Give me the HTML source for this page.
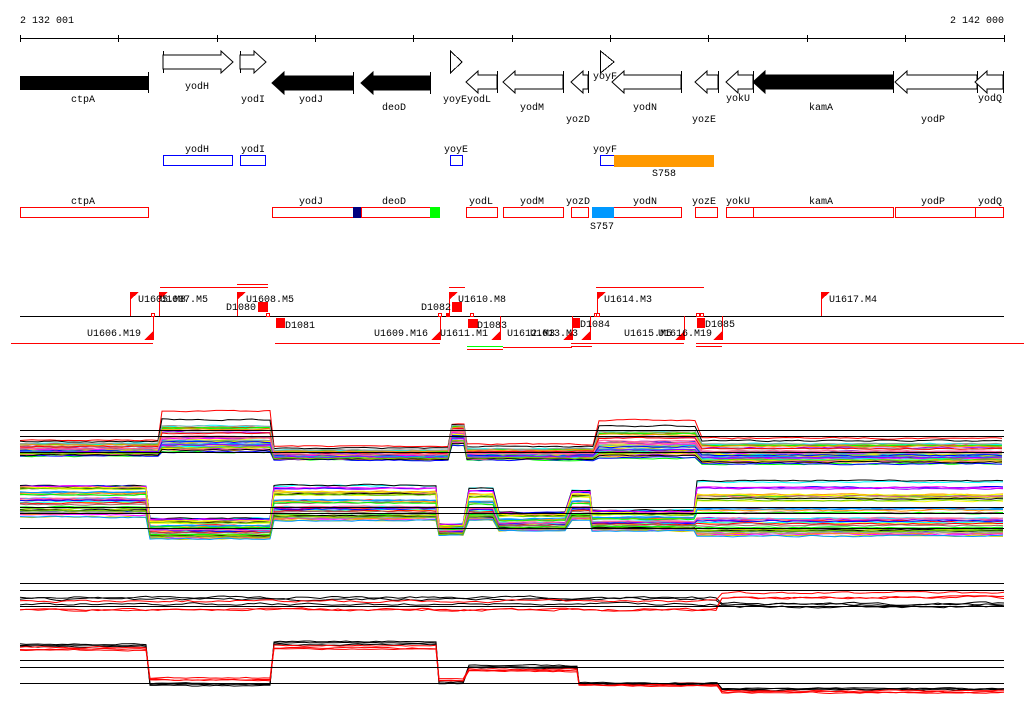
<!DOCTYPE html>
<html><head><meta charset="utf-8">
<style>
html,body{margin:0;padding:0;background:#fff;}
svg{display:block;}
text{font-family:"Liberation Mono","DejaVu Sans Mono",monospace;font-size:10px;fill:#000;}
</style></head>
<body>
<svg id="s" xmlns="http://www.w3.org/2000/svg" width="1024" height="714" viewBox="0 0 1024 714" shape-rendering="crispEdges">
<text x="20" y="23">2 132 001</text>
<text x="1004" y="23" text-anchor="end">2 142 000</text>
<line x1="20" y1="38.5" x2="1004" y2="38.5" stroke="#000"/>
<g id="ticks" stroke="#000"></g>
<g id="genes"></g>
<text x="83" y="102" text-anchor="middle">ctpA</text>
<text x="197" y="89" text-anchor="middle">yodH</text>
<text x="253" y="102" text-anchor="middle">yodI</text>
<text x="311" y="102" text-anchor="middle">yodJ</text>
<text x="394" y="110" text-anchor="middle">deoD</text>
<text x="443" y="102">yoyEyodL</text>
<text x="532" y="110" text-anchor="middle">yodM</text>
<text x="578" y="122" text-anchor="middle">yozD</text>
<text x="593" y="79">yoyF</text>
<text x="645" y="110" text-anchor="middle">yodN</text>
<text x="704" y="122" text-anchor="middle">yozE</text>
<text x="738" y="101" text-anchor="middle">yokU</text>
<text x="821" y="110" text-anchor="middle">kamA</text>
<text x="933" y="122" text-anchor="middle">yodP</text>
<text x="990" y="101" text-anchor="middle">yodQ</text>
<g fill="none" stroke="#0000ff">
<rect x="163.5" y="155.5" width="69" height="10"/>
<rect x="240.5" y="155.5" width="25" height="10"/>
<rect x="450.5" y="155.5" width="12" height="10"/>
<rect x="600.5" y="155.5" width="14" height="10"/>
</g>
<rect x="614" y="155" width="100" height="12" fill="#ff9900"/>
<text x="197" y="152" text-anchor="middle">yodH</text>
<text x="253" y="152" text-anchor="middle">yodI</text>
<text x="456" y="152" text-anchor="middle">yoyE</text>
<text x="593" y="152">yoyF</text>
<text x="664" y="176" text-anchor="middle">S758</text>
<g fill="none" stroke="#ff0000">
<rect x="20.5" y="207.5" width="128" height="10"/>
<rect x="272.5" y="207.5" width="81" height="10"/>
<rect x="361.5" y="207.5" width="69" height="10"/>
<rect x="466.5" y="207.5" width="31" height="10"/>
<rect x="503.5" y="207.5" width="60" height="10"/>
<rect x="571.5" y="207.5" width="17" height="10"/>
<rect x="613.5" y="207.5" width="68" height="10"/>
<rect x="695.5" y="207.5" width="22" height="10"/>
<rect x="726.5" y="207.5" width="27" height="10"/>
<rect x="753.5" y="207.5" width="140" height="10"/>
<rect x="895.5" y="207.5" width="80" height="10"/>
<rect x="975.5" y="207.5" width="28" height="10"/>
</g>
<rect x="353" y="207" width="8" height="11" fill="#000080"/>
<rect x="430" y="207" width="10" height="11" fill="#00ff00"/>
<rect x="592" y="207" width="22" height="11" fill="#0099ff"/>
<text x="83" y="204" text-anchor="middle">ctpA</text>
<text x="311" y="204" text-anchor="middle">yodJ</text>
<text x="394" y="204" text-anchor="middle">deoD</text>
<text x="481" y="204" text-anchor="middle">yodL</text>
<text x="532" y="204" text-anchor="middle">yodM</text>
<text x="578" y="204" text-anchor="middle">yozD</text>
<text x="645" y="204" text-anchor="middle">yodN</text>
<text x="704" y="204" text-anchor="middle">yozE</text>
<text x="738" y="204" text-anchor="middle">yokU</text>
<text x="821" y="204" text-anchor="middle">kamA</text>
<text x="933" y="204" text-anchor="middle">yodP</text>
<text x="990" y="204" text-anchor="middle">yodQ</text>
<text x="602" y="229" text-anchor="middle">S757</text>
<line x1="20" y1="316.5" x2="1004" y2="316.5" stroke="#000"/>
<g id="mk"></g>
<g stroke="#ff0000">
<line x1="160" y1="287.5" x2="268" y2="287.5"/>
<line x1="237" y1="284.5" x2="268" y2="284.5"/>
<line x1="449" y1="287.5" x2="465" y2="287.5"/>
<line x1="596" y1="287.5" x2="704" y2="287.5"/>
<line x1="11" y1="343.5" x2="153" y2="343.5"/>
<line x1="275" y1="343.5" x2="440" y2="343.5"/>
<line x1="571" y1="343.5" x2="684" y2="343.5"/>
<line x1="571" y1="346.5" x2="592" y2="346.5"/>
<line x1="696" y1="343.5" x2="1024" y2="343.5"/>
<line x1="696" y1="346.5" x2="722" y2="346.5"/>
<line x1="503" y1="347.5" x2="572" y2="347.5"/>
<line x1="467" y1="349.5" x2="503" y2="349.5"/>
</g>
<line x1="467" y1="346.5" x2="503" y2="346.5" stroke="#00ff00"/>
<text x="138" y="302">U1605.M8</text>
<text x="160" y="302">U1607.M5</text>
<text x="246" y="302">U1608.M5</text>
<text x="226" y="310">D1080</text>
<text x="458" y="302">U1610.M8</text>
<text x="421" y="310">D1082</text>
<text x="604" y="302">U1614.M3</text>
<text x="829" y="302">U1617.M4</text>
<text x="285" y="328">D1081</text>
<text x="477" y="328">D1083</text>
<text x="580" y="327">D1084</text>
<text x="705" y="327">D1085</text>
<text x="141" y="336" text-anchor="end">U1606.M19</text>
<text x="428" y="336" text-anchor="end">U1609.M16</text>
<text x="440" y="336">U1611.M1</text>
<text x="507" y="336">U1612.M3</text>
<text x="530" y="336">U1613.M3</text>
<text x="624" y="336">U1615.M5</text>
<text x="658" y="336">U1616.M19</text>
<g id="charts" fill="none" shape-rendering="auto"></g>
<g stroke="#000">
<line x1="20" y1="430.5" x2="1004" y2="430.5"/>
<line x1="20" y1="436.5" x2="1004" y2="436.5"/>
<line x1="20" y1="452.5" x2="1004" y2="452.5"/>
<line x1="20" y1="507.5" x2="1004" y2="507.5"/>
<line x1="20" y1="513.5" x2="1004" y2="513.5"/>
<line x1="20" y1="528.5" x2="1004" y2="528.5"/>
<line x1="20" y1="583.5" x2="1004" y2="583.5"/>
<line x1="20" y1="590.5" x2="1004" y2="590.5"/>
<line x1="20" y1="606.5" x2="1004" y2="606.5"/>
<line x1="20" y1="660.5" x2="1004" y2="660.5"/>
<line x1="20" y1="667.5" x2="1004" y2="667.5"/>
<line x1="20" y1="683.5" x2="1004" y2="683.5"/>
</g>
</svg>
<script>
var NS="http://www.w3.org/2000/svg";
function el(p,t,a){var e=document.createElementNS(NS,t);for(var k in a)e.setAttribute(k,a[k]);p.appendChild(e);return e;}
var T=document.getElementById('ticks');
[20,118,217,315,413,512,610,708,807,905,1004].forEach(function(x){el(T,'line',{x1:x+.5,y1:35,x2:x+.5,y2:42});});
var G=document.getElementById('genes');
function arr(x0,x1,dir,fill,yc){
  var bh=7,hh=11,hl=12,p;
  if(dir>0){p=[[x0,yc-bh],[x1-hl,yc-bh],[x1-hl,yc-hh],[x1,yc],[x1-hl,yc+hh],[x1-hl,yc+bh],[x0,yc+bh]];
    el(G,'line',{x1:x0+.5,y1:yc-hh,x2:x0+.5,y2:yc+hh,stroke:'#000'});}
  else{p=[[x1,yc-bh],[x0+hl,yc-bh],[x0+hl,yc-hh],[x0,yc],[x0+hl,yc+hh],[x0+hl,yc+bh],[x1,yc+bh]];
    el(G,'line',{x1:x1+.5,y1:yc-hh,x2:x1+.5,y2:yc+hh,stroke:'#000'});}
  el(G,'polygon',{points:p.map(function(q){return q.join(',')}).join(' '),fill:fill?'#000':'#fff',stroke:'#000','shape-rendering':'auto'});
}
el(G,'rect',{x:20,y:76,width:128,height:14,fill:'#000'});
el(G,'line',{x1:148.5,y1:72,x2:148.5,y2:93,stroke:'#000'});
arr(163,233,1,0,62);arr(240,266,1,0,62);
arr(272,353,-1,1,83);arr(361,430,-1,1,83);
el(G,'polygon',{points:'450.5,51 462,62 450.5,73',fill:'#fff',stroke:'#000'});
el(G,'polygon',{points:'600.5,51 614,62 600.5,73',fill:'#fff',stroke:'#000'});
arr(466,497,-1,0,82);arr(503,563,-1,0,82);arr(571,588,-1,0,82);arr(612,681,-1,0,82);
arr(695,718,-1,0,82);arr(726,753,-1,0,82);arr(753,893,-1,1,82);arr(895,977,-1,0,82);arr(975,1003,-1,0,82);
var M=document.getElementById('mk');
function upflag(x,top){el(M,'line',{x1:x+.5,y1:top,x2:x+.5,y2:316,stroke:'#f00'});el(M,'polygon',{points:x+','+top+' '+(x+9)+','+top+' '+x+','+(top+8),fill:'#f00'});}
function dnflag(x){el(M,'line',{x1:x+.5,y1:316,x2:x+.5,y2:340,stroke:'#f00'});el(M,'polygon',{points:(x-9)+','+340+' '+x+','+340+' '+x+','+331,fill:'#f00'});}
function sq(x,y,w,h){el(M,'rect',{x:x,y:y,width:w,height:h,fill:'#f00'});}
function smallbox(x,y){el(M,'rect',{x:x+.5,y:y+.5,width:3,height:3,fill:'#fff',stroke:'#f00'});}
[130,159,237,449,597,821].forEach(function(x){upflag(x,292);});
sq(258,302,10,10);sq(452,302,10,10);sq(276,318,9,10);sq(468,319,10,9);sq(572,318,8,10);sq(697,318,8,10);sq(446,313,4,4);
[153,440,500,572,590,684,722].forEach(dnflag);
[151,266,438,470,594,596,696,700].forEach(function(x){smallbox(x,313);});
var C=document.getElementById('charts');
var seed=7;function rnd(){seed=(seed*16807)%2147483647;return seed/2147483647;}
var pal=['#ff0000','#00ff00','#0000ff','#ff00ff','#00ffff','#ffff00','#ff9900','#999999','#996666','#cccc00','#0099ff','#9900ff','#000000','#66cc00','#ff6699'];
function chart(segs,N,colors,nz){
  nz=nz||1.2;
  for(var i=0;i<N;i++){
    var f=rnd(),pts=[],col=colors?colors[i%colors.length]:pal[i%pal.length];
    segs.forEach(function(s){
      var ff=Math.pow(f,s[4]||1);var w=0;
      for(var x=s[0];x<=s[1];x+=6){
        w=w*0.6+(rnd()-0.5)*nz;
        var y=s[2]+(s[3]-s[2])*ff+w;
        pts.push(x+','+y.toFixed(1));
      }
    });
    el(C,'polyline',{points:pts.join(' '),stroke:col,'stroke-width':1});
  }
}
chart([[20,160,440,456,0.6],[162,272,410,452,0.4],[274,450,446,460,0.5],[452,465,424,446],[467,597,444,460,0.5],[599,700,420,458,0.5],[702,1004,438,464,0.6]],45);
chart([[20,148,486,520,1.6],[150,272,518,540],[274,437,484,522,0.8],[439,467,524,536],[469,497,487,522,0.8],[499,570,512,532],[572,590,490,522],[592,695,510,532],[697,1004,476,538,0.6]],45);
chart([[20,720,596,612],[722,1004,603,610]],3,['#000','#000','#000'],2);
chart([[20,720,600,614],[722,1004,592,600]],3,['#ff0000','#ff0000','#ff0000'],2);
chart([[20,148,640,647],[150,272,680,686],[274,437,636,645],[439,467,678,684],[469,577,662,668],[579,720,680,685],[722,1004,686,690]],3,['#000','#000','#000']);
chart([[20,148,646,652],[150,272,677,682],[274,437,644,652],[439,467,678,683],[469,577,668,673],[579,720,683,687],[722,1004,690,694]],3,['#ff0000','#ff0000','#ff0000']);
</script>
</body></html>
